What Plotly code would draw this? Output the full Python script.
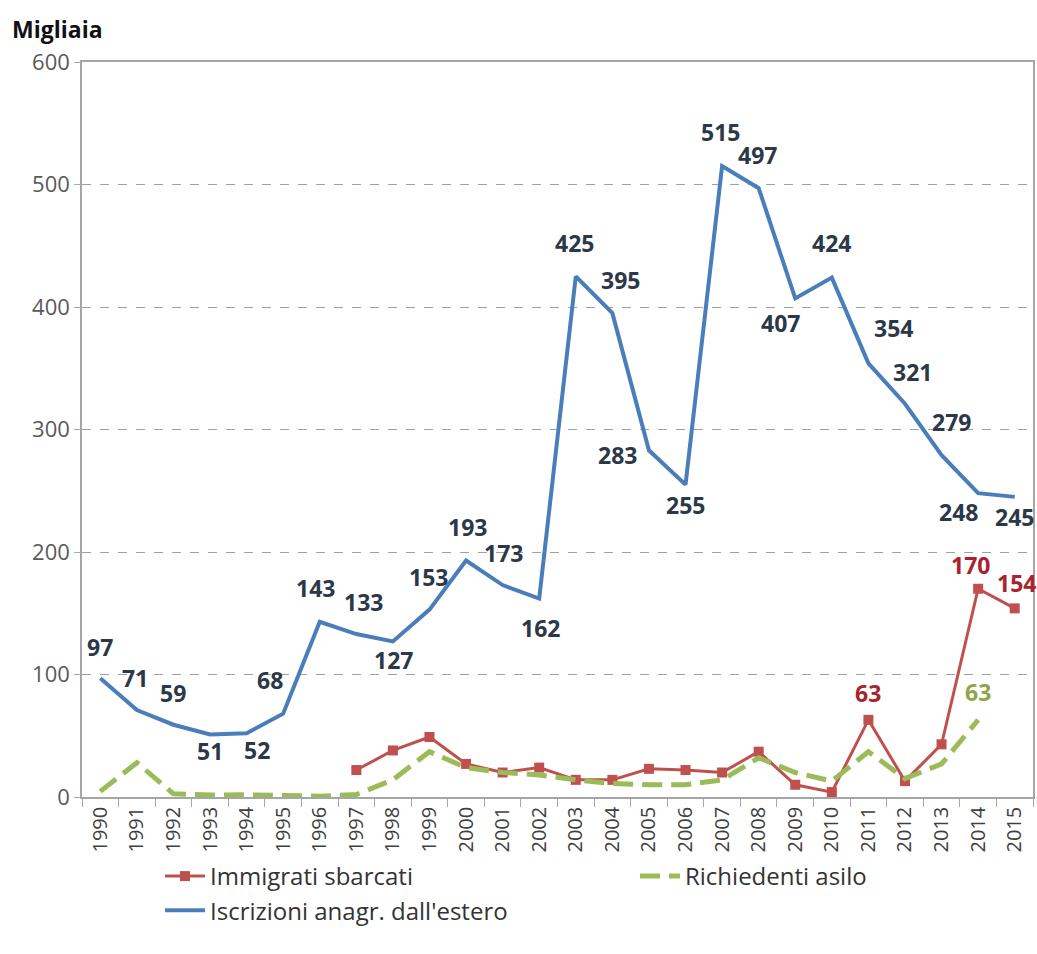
import plotly.graph_objects as go

# Years on the category axis
years = [str(y) for y in range(1990, 2016)]

# Iscrizioni anagrafiche dall'estero (migliaia)
iscrizioni = [97, 71, 59, 51, 52, 68, 143, 133, 127, 153, 193, 173, 162,
              425, 395, 283, 255, 515, 497, 407, 424, 354, 321, 279, 248, 245]

# Immigrati sbarcati (migliaia), series starts in 1997
sbarcati = [None] * 7 + [22, 38, 49, 27, 20, 24, 14, 14, 23, 22, 20, 37, 10,
                         4, 63, 13, 43, 170, 154]

# Richiedenti asilo (migliaia), series ends in 2014
asilo = [4.6, 28, 2.6, 1.6, 1.8, 1.7, 0.7, 2, 14, 37, 24, 20, 18, 14, 11, 10,
         10, 14, 32, 20, 13, 37, 15, 27, 63, None]

# Data-label offsets (px) for the blue series labels: (dx, dy)
blue_offsets = [(0, 31), (-2, 32), (0, 32), (0, -16), (10, -17), (-13, 34),
                (-4, 34), (7, 32), (1, -19), (-1, 33), (1, 34), (1, 32),
                (1, -29), (-1, 33), (8, 33), (-31, -5), (0, -20), (-2, 34),
                (-1, 33), (-15, -25), (0, 35), (25, 35), (8, 32), (10, 33),
                (-20, -19), (0, -20)]

# Labelled points of the other two series: year -> (dx, dy)
red_labels = {"2011": (0, 27), "2014": (-8, 24), "2015": (2, 25)}
green_labels = {"2014": (0, 28)}

BLUE = "#4a7ebb"
RED = "#c0504d"
GREEN = "#9bbb59"
BLUE_TXT = "#2b3848"
RED_TXT = "#a8232e"
GREEN_TXT = "#8ea54a"
FONT = "Open Sans"

fig = go.Figure()

fig.add_trace(go.Scatter(
    x=years, y=sbarcati, name="Immigrati sbarcati", mode="lines+markers",
    line=dict(color=RED, width=3),
    marker=dict(symbol="square", size=10, color=RED),
))
fig.add_trace(go.Scatter(
    x=years, y=asilo, name="Richiedenti asilo", mode="lines",
    line=dict(color=GREEN, width=5, dash="20px,9px"),
))
fig.add_trace(go.Scatter(
    x=years, y=iscrizioni, name="Iscrizioni anagr. dall'estero", mode="lines",
    line=dict(color=BLUE, width=4),
))


def label(idx, val, text, dx, dy, color):
    # Category positions on the x axis are referenced by index
    return dict(
        x=idx, y=val, text=text, showarrow=False, xshift=dx, yshift=dy,
        font=dict(family=FONT, size=23, color=color, weight="bold"),
    )


annotations = []
for i, (val, (dx, dy)) in enumerate(zip(iscrizioni, blue_offsets)):
    annotations.append(label(i, val, str(val), dx, dy, BLUE_TXT))
for yr, (dx, dy) in red_labels.items():
    i = years.index(yr)
    annotations.append(label(i, sbarcati[i], str(sbarcati[i]), dx, dy, RED_TXT))
for yr, (dx, dy) in green_labels.items():
    i = years.index(yr)
    annotations.append(label(i, asilo[i], str(round(asilo[i])), dx, dy, GREEN_TXT))

fig.update_layout(
    width=1037, height=954,
    margin=dict(l=82, r=4, t=62, b=157, autoexpand=False),
    paper_bgcolor="white", plot_bgcolor="white",
    title=dict(text="<b>Migliaia</b>", x=12 / 1037, xanchor="left",
               xref="container", y=1 - 30 / 954, yanchor="middle",
               yref="container",
               font=dict(family=FONT, size=23, color="#111111")),
    annotations=annotations,
    showlegend=True,
    legend=dict(
        orientation="h", xref="container", yref="container",
        x=160 / 1037, xanchor="left", y=1 - 854 / 954, yanchor="top",
        entrywidth=420, entrywidthmode="pixels",
        font=dict(family=FONT, size=24, color="#333333"),
        itemwidth=40, traceorder="normal",
    ),
    xaxis=dict(
        type="category", tickson="boundaries", ticks="outside", ticklen=8,
        tickcolor="#a6a6a6", showline=True, linecolor="#a6a6a6", linewidth=1.5,
        mirror=True, showgrid=False, tickangle=-90, automargin=False,
        range=[-0.5, len(years) - 0.5],
        tickfont=dict(family=FONT, size=20, color="#404040"),
    ),
    yaxis=dict(
        range=[0, 600], dtick=100, ticks="outside", ticklen=6,
        tickcolor="#a6a6a6", showline=True, linecolor="#a6a6a6", linewidth=1.5,
        mirror=True, showgrid=True, gridcolor="#a0a0a0", gridwidth=1,
        griddash="dash", zeroline=False, automargin=False,
        tickfont=dict(family=FONT, size=22, color="#595959"),
    ),
)

fig.write_html("out.html")
